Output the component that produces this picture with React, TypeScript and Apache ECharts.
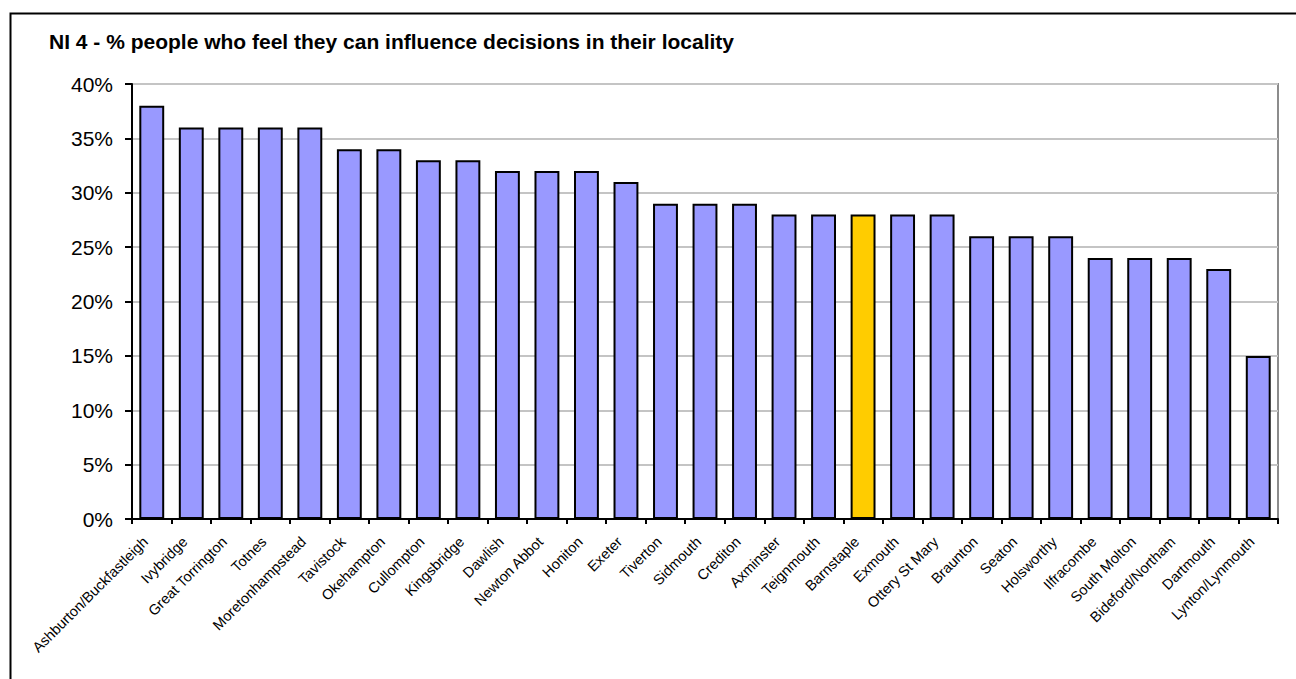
import React, { useEffect, useRef } from "react";
import * as echarts from "echarts";

const titleText = "NI 4 - % people who feel they can influence decisions in their locality";

const categories = [
  "Ashburton/Buckfastleigh", "Ivybridge", "Great Torrington", "Totnes", "Moretonhampstead",
  "Tavistock", "Okehampton", "Cullompton", "Kingsbridge", "Dawlish", "Newton Abbot",
  "Honiton", "Exeter", "Tiverton", "Sidmouth", "Crediton", "Axminster", "Teignmouth",
  "Barnstaple", "Exmouth", "Ottery St Mary", "Braunton", "Seaton", "Holsworthy",
  "Ilfracombe", "South Molton", "Bideford/Northam", "Dartmouth", "Lynton/Lynmouth",
];

const values = [38, 36, 36, 36, 36, 34, 34, 33, 33, 32, 32, 32, 31, 29, 29, 29, 28, 28, 28, 28, 28, 26, 26, 26, 24, 24, 24, 23, 15];

const highlighted = "Barnstaple";

const FONT = 'Arial, "Liberation Sans", sans-serif';

export default function App() {
  const ref = useRef<HTMLDivElement>(null);

  useEffect(() => {
    if (!ref.current) return;
    const chart = echarts.init(ref.current, undefined, { renderer: "svg" });
    chart.setOption({
      animation: false,
      backgroundColor: "#ffffff",
      textStyle: { fontFamily: FONT },
      title: {
        text: titleText,
        left: 49,
        top: 31,
        padding: 0,
        textStyle: { fontFamily: FONT, fontSize: 21, fontWeight: "bold", color: "#000" },
      },
      graphic: [
        {
          type: "rect",
          left: 8,
          top: 11,
          shape: { x: 0, y: 0, width: 1300, height: 700 },
          style: { fill: "none", stroke: "#000", lineWidth: 2 },
          z: 100,
        },
      ],
      grid: {
        left: 132,
        top: 84,
        right: 18,
        bottom: 160,
        show: true,
        borderColor: "#8c8c8c",
        borderWidth: 2,
      },
      xAxis: {
        type: "category",
        data: categories,
        axisLine: { lineStyle: { color: "#000", width: 2 } },
        axisTick: { show: true, inside: false, length: 5, lineStyle: { color: "#000", width: 2 } },
        axisLabel: {
          interval: 0,
          rotate: 45,
          margin: 14,
          fontSize: 14.5,
          color: "#000",
          fontFamily: FONT,
          padding: [0, 9, 0, 0],
        },
        splitLine: { show: false },
      },
      yAxis: {
        type: "value",
        min: 0,
        max: 40,
        interval: 5,
        axisLine: { show: true, lineStyle: { color: "#000", width: 2 } },
        axisTick: { show: true, length: 7, lineStyle: { color: "#000", width: 2 } },
        axisLabel: {
          formatter: "{value}%",
          margin: 19,
          fontSize: 21,
          color: "#000",
          fontFamily: FONT,
        },
        splitLine: { show: true, lineStyle: { color: "#c4c4c4", width: 2 } },
      },
      series: [
        {
          type: "bar",
          barWidth: "63%",
          data: values.map((v, i) => ({
            value: v,
            itemStyle: {
              color: categories[i] === highlighted ? "#FFCC00" : "#9999FF",
              borderColor: "#000",
              borderWidth: 2,
            },
          })),
        },
      ],
    });
    return () => chart.dispose();
  }, []);

  return (
    <div
      ref={ref}
      style={{ position: "fixed", left: 0, top: 0, width: 1296, height: 679, background: "#fff" }}
    />
  );
}
